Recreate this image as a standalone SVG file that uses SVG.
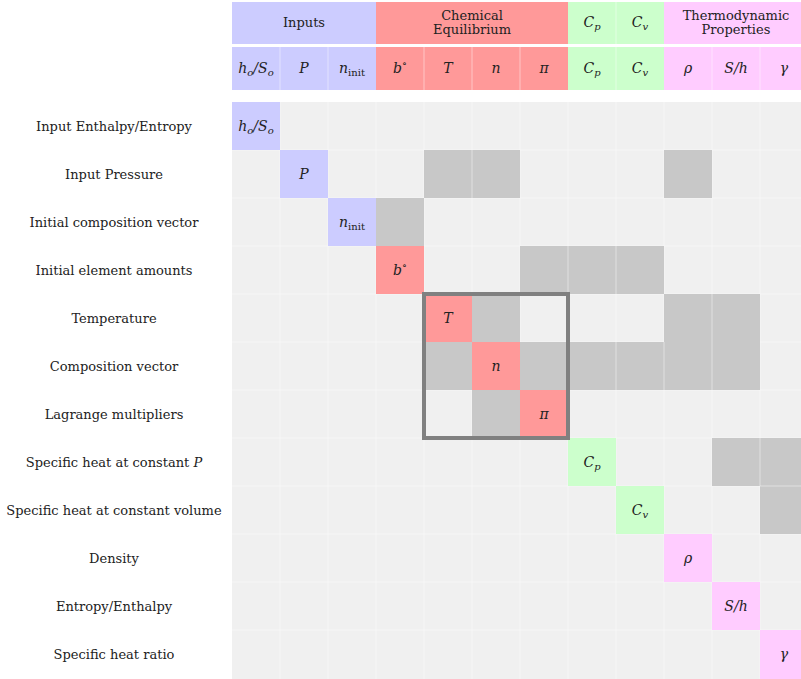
<svg xmlns="http://www.w3.org/2000/svg" width="801" height="679" viewBox="0 0 801 679">
<style>
.in{fill:#ccccff}.ce{fill:#ff9999}.cp{fill:#ccffcc}.th{fill:#ffccff}.dep{fill:#c8c8c8}.bg{fill:#f0f0f0}
.sep{stroke:#ffffff;stroke-opacity:0.45;stroke-width:1}
.m{font-style:italic;font-size:14px}
.s{font-size:10px}
.u{font-style:normal}
</style>
<rect width="801" height="679" fill="#ffffff"/>
<g font-family="'DejaVu Serif', 'Liberation Serif', serif" font-size="13" fill="#222222" text-anchor="middle">
<g id="header-groups">
<rect class="in" x="232" y="2" width="144" height="42"/>
<rect class="ce" x="376" y="2" width="192" height="42"/>
<rect class="cp" x="568" y="2" width="96" height="42"/>
<rect class="th" x="664" y="2" width="144" height="42"/>
<line class="sep" x1="616" y1="2" x2="616" y2="44"/>
<text x="304" y="27">Inputs</text>
<text x="472" y="20">Chemical</text>
<text x="472" y="34">Equilibrium</text>
<text class="m" x="592" y="27">C<tspan class="s" dy="3">p</tspan></text>
<text class="m" x="640" y="27">C<tspan class="s" dy="3">v</tspan></text>
<text x="736" y="20">Thermodynamic</text>
<text x="736" y="34">Properties</text>
</g>
<g id="header-vars">
<rect class="in" x="232" y="47" width="144" height="43"/>
<rect class="ce" x="376" y="47" width="192" height="43"/>
<rect class="cp" x="568" y="47" width="96" height="43"/>
<rect class="th" x="664" y="47" width="144" height="43"/>
<g class="sep">
<line x1="280" y1="47" x2="280" y2="90"/><line x1="328" y1="47" x2="328" y2="90"/>
<line x1="424" y1="47" x2="424" y2="90"/><line x1="472" y1="47" x2="472" y2="90"/><line x1="520" y1="47" x2="520" y2="90"/>
<line x1="616" y1="47" x2="616" y2="90"/><line x1="712" y1="47" x2="712" y2="90"/><line x1="760" y1="47" x2="760" y2="90"/>
</g>
<text class="m" x="256" y="73">h<tspan class="s" dy="3">o</tspan><tspan dy="-3">/S</tspan><tspan class="s" dy="3">o</tspan></text>
<text class="m" x="304" y="73">P</text>
<text class="m" x="352" y="73">n<tspan class="s u" dy="3">init</tspan></text>
<text class="m" x="400" y="73">b<tspan class="s u" dy="-6">∘</tspan></text>
<text class="m" x="448" y="73">T</text>
<text class="m" x="496" y="73">n</text>
<text class="m" x="544" y="73">π</text>
<text class="m" x="592" y="73">C<tspan class="s" dy="3">p</tspan></text>
<text class="m" x="640" y="73">C<tspan class="s" dy="3">v</tspan></text>
<text class="m" x="688" y="73">ρ</text>
<text class="m" x="736" y="73">S/h</text>
<text class="m" x="784" y="73">γ</text>
</g>
<g id="matrix-background">
<rect class="bg" x="232" y="102" width="576" height="577"/>
<g class="sep" stroke-opacity="0.3">
<line x1="280" y1="102" x2="280" y2="679"/><line x1="328" y1="102" x2="328" y2="679"/><line x1="376" y1="102" x2="376" y2="679"/>
<line x1="424" y1="102" x2="424" y2="679"/><line x1="472" y1="102" x2="472" y2="679"/><line x1="520" y1="102" x2="520" y2="679"/>
<line x1="568" y1="102" x2="568" y2="679"/><line x1="616" y1="102" x2="616" y2="679"/><line x1="664" y1="102" x2="664" y2="679"/>
<line x1="712" y1="102" x2="712" y2="679"/><line x1="760" y1="102" x2="760" y2="679"/>
<line x1="232" y1="150" x2="801" y2="150"/><line x1="232" y1="198" x2="801" y2="198"/><line x1="232" y1="246" x2="801" y2="246"/>
<line x1="232" y1="294" x2="801" y2="294"/><line x1="232" y1="342" x2="801" y2="342"/><line x1="232" y1="390" x2="801" y2="390"/>
<line x1="232" y1="438" x2="801" y2="438"/><line x1="232" y1="486" x2="801" y2="486"/><line x1="232" y1="534" x2="801" y2="534"/>
<line x1="232" y1="582" x2="801" y2="582"/><line x1="232" y1="630" x2="801" y2="630"/>
</g>
</g>
<g id="connectors">
<rect class="dep" x="424" y="150" width="96" height="48"/>
<rect class="dep" x="664" y="150" width="48" height="48"/>
<rect class="dep" x="376" y="198" width="48" height="48"/>
<rect class="dep" x="520" y="246" width="144" height="48"/>
<rect class="dep" x="472" y="294" width="48" height="48"/>
<rect class="dep" x="664" y="294" width="96" height="48"/>
<rect class="dep" x="424" y="342" width="48" height="48"/>
<rect class="dep" x="520" y="342" width="240" height="48"/>
<rect class="dep" x="472" y="390" width="48" height="48"/>
<rect class="dep" x="712" y="438" width="96" height="48"/>
<rect class="dep" x="760" y="486" width="48" height="48"/>
<g class="sep" stroke-opacity="0.3">
<line x1="472" y1="150" x2="472" y2="198"/><line x1="568" y1="246" x2="568" y2="294"/><line x1="616" y1="246" x2="616" y2="294"/>
<line x1="712" y1="294" x2="712" y2="342"/><line x1="568" y1="342" x2="568" y2="390"/><line x1="616" y1="342" x2="616" y2="390"/>
<line x1="664" y1="342" x2="664" y2="390"/><line x1="712" y1="342" x2="712" y2="390"/><line x1="760" y1="438" x2="760" y2="486"/>
<line x1="760" y1="486" x2="801" y2="486"/>
</g>
</g>
<g id="node-hoSo"><rect class="in" x="232" y="102" width="48" height="48"/><text class="m" x="256" y="131">h<tspan class="s" dy="3">o</tspan><tspan dy="-3">/S</tspan><tspan class="s" dy="3">o</tspan></text><text x="114" y="131">Input Enthalpy/Entropy</text></g>
<g id="node-P"><rect class="in" x="280" y="150" width="48" height="48"/><text class="m" x="304" y="179">P</text><text x="114" y="179">Input Pressure</text></g>
<g id="node-ninit"><rect class="in" x="328" y="198" width="48" height="48"/><text class="m" x="352" y="227">n<tspan class="s u" dy="3">init</tspan></text><text x="114" y="227">Initial composition vector</text></g>
<g id="node-b"><rect class="ce" x="376" y="246" width="48" height="48"/><text class="m" x="400" y="275">b<tspan class="s u" dy="-6">∘</tspan></text><text x="114" y="275">Initial element amounts</text></g>
<g id="node-T"><rect class="ce" x="424" y="294" width="48" height="48"/><text class="m" x="448" y="323">T</text><text x="114" y="323">Temperature</text></g>
<g id="node-n"><rect class="ce" x="472" y="342" width="48" height="48"/><text class="m" x="496" y="371">n</text><text x="114" y="371">Composition vector</text></g>
<g id="node-pi"><rect class="ce" x="520" y="390" width="48" height="48"/><text class="m" x="544" y="419">π</text><text x="114" y="419">Lagrange multipliers</text></g>
<g id="node-Cp"><rect class="cp" x="568" y="438" width="48" height="48"/><text class="m" x="592" y="467">C<tspan class="s" dy="3">p</tspan></text><text x="114" y="467">Specific heat at constant <tspan font-style="italic">P</tspan></text></g>
<g id="node-Cv"><rect class="cp" x="616" y="486" width="48" height="48"/><text class="m" x="640" y="515">C<tspan class="s" dy="3">v</tspan></text><text x="114" y="515">Specific heat at constant volume</text></g>
<g id="node-rho"><rect class="th" x="664" y="534" width="48" height="48"/><text class="m" x="688" y="563">ρ</text><text x="114" y="563">Density</text></g>
<g id="node-Sh"><rect class="th" x="712" y="582" width="48" height="48"/><text class="m" x="736" y="611">S/h</text><text x="114" y="611">Entropy/Enthalpy</text></g>
<g id="node-gamma"><rect class="th" x="760" y="630" width="48" height="49"/><text class="m" x="784" y="659">γ</text><text x="114" y="659">Specific heat ratio</text></g>
<g id="coupled-block"><rect x="424" y="294" width="144" height="144" fill="none" stroke="#808080" stroke-width="4"/></g>
</g>
</svg>
